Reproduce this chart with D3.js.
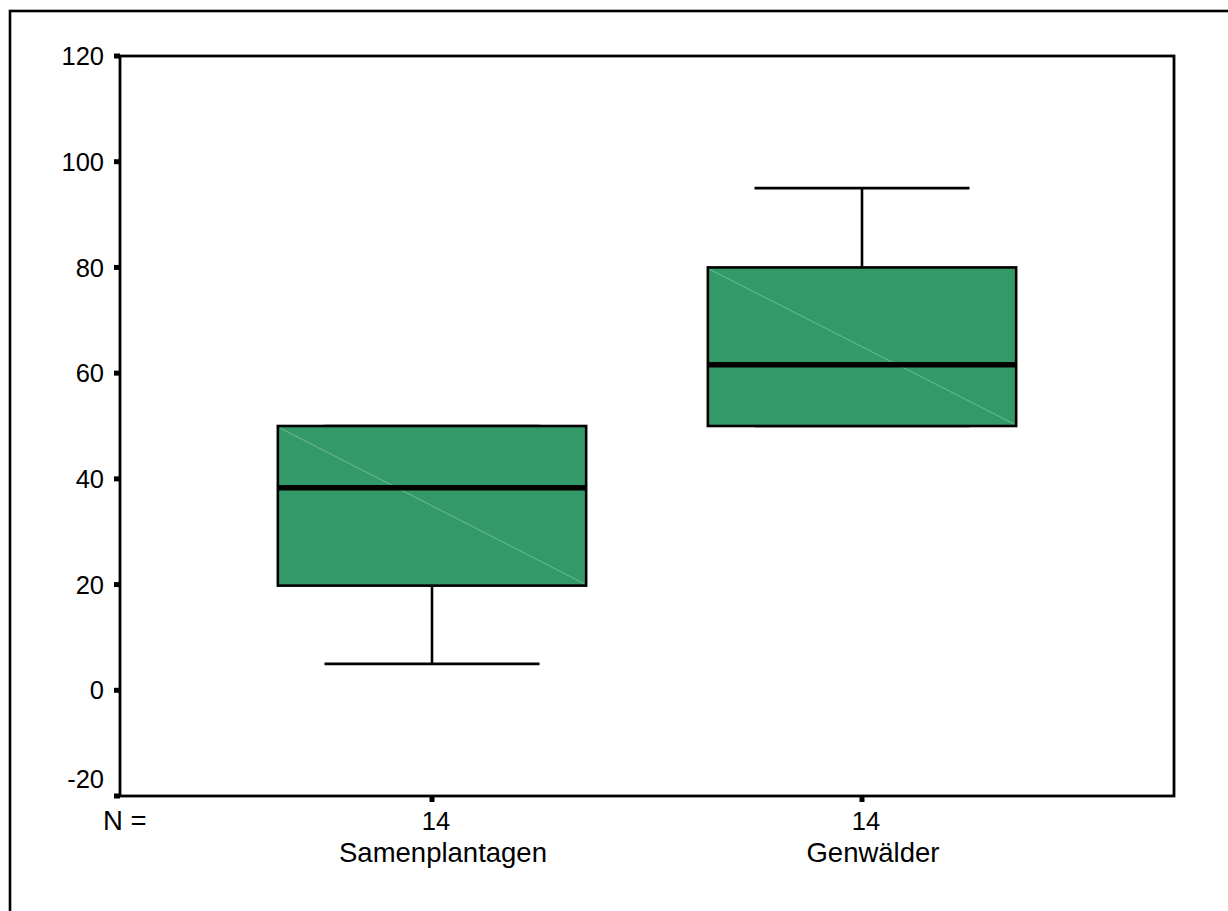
<!DOCTYPE html>
<html>
<head>
<meta charset="utf-8">
<script src="https://cdn.jsdelivr.net/npm/d3@7"></script>
<style>
  html, body { margin: 0; padding: 0; background: #fff; }
  svg { display: block; }
  text { font-family: "Liberation Sans", Arial, sans-serif; fill: #000; }
</style>
</head>
<body>
<svg id="chart" width="1228" height="911"></svg>
<script>
const categories = ["Samenplantagen", "Genwälder"];
const nValues = [14, 14];
const whiskerLow = [5, 50];
const q1Values = [19.8, 50];
const medianValues = [38.3, 61.6];
const q3Values = [50, 80];
const whiskerHigh = [50, 95];
const yTicks = [-20, 0, 20, 40, 60, 80, 100, 120];

(function () {
const svg = d3.select("#chart");
const pLeft = 120, pRight = 1174, pTop = 56, pBottom = 796;

const x = d3.scalePoint().domain(categories).range([pLeft, pRight]).padding(0.7256);
const y = d3.scaleLinear().domain([-20, 120]).range([pBottom, pTop]);
const step = x.step();
const boxW = step * 0.717;
const capW = step * 0.5;

svg.append("rect").attr("x", 10).attr("y", 11).attr("width", 1400).attr("height", 1100)
  .attr("fill", "none").attr("stroke", "#000").attr("stroke-width", 2.6);

const data = categories.map((c, i) => ({
  c, n: nValues[i], lo: whiskerLow[i], q1: q1Values[i], med: medianValues[i], q3: q3Values[i], hi: whiskerHigh[i]
}));

const g = svg.append("g");
data.forEach(d => {
  const cx = x(d.c);
  g.append("line").attr("x1", cx).attr("x2", cx).attr("y1", y(d.hi)).attr("y2", y(d.q3))
    .attr("stroke", "#000").attr("stroke-width", 2.6);
  g.append("line").attr("x1", cx).attr("x2", cx).attr("y1", y(d.q1)).attr("y2", y(d.lo))
    .attr("stroke", "#000").attr("stroke-width", 2.6);
  g.append("line").attr("x1", cx - capW / 2).attr("x2", cx + capW / 2).attr("y1", y(d.hi)).attr("y2", y(d.hi))
    .attr("stroke", "#000").attr("stroke-width", 2.6);
  g.append("line").attr("x1", cx - capW / 2).attr("x2", cx + capW / 2).attr("y1", y(d.lo)).attr("y2", y(d.lo))
    .attr("stroke", "#000").attr("stroke-width", 2.6);
  g.append("rect").attr("x", cx - boxW / 2).attr("y", y(d.q3)).attr("width", boxW).attr("height", y(d.q1) - y(d.q3))
    .attr("fill", "#349968").attr("stroke", "#000").attr("stroke-width", 2.6);
  g.append("line").attr("x1", cx - boxW / 2 + 2).attr("y1", y(d.q3) + 2).attr("x2", cx + boxW / 2 - 2).attr("y2", y(d.q1) - 2)
    .attr("stroke", "#7fc4a0").attr("stroke-width", 0.8);
  g.append("line").attr("x1", cx - boxW / 2).attr("x2", cx + boxW / 2).attr("y1", y(d.med)).attr("y2", y(d.med))
    .attr("stroke", "#000").attr("stroke-width", 5.5);
});

svg.append("rect").attr("x", pLeft).attr("y", pTop).attr("width", pRight - pLeft).attr("height", pBottom - pTop)
  .attr("fill", "none").attr("stroke", "#000").attr("stroke-width", 2.8);

yTicks.forEach(t => {
  svg.append("line").attr("x1", pLeft - 6).attr("x2", pLeft).attr("y1", y(t)).attr("y2", y(t))
    .attr("stroke", "#000").attr("stroke-width", 5);
  svg.append("text").attr("x", 104).attr("y", y(t) + (t === -20 ? -17 : 0))
    .attr("dy", "0.36em").attr("text-anchor", "end").attr("font-size", 25.5).text(t);
});

data.forEach(d => {
  const cx = x(d.c);
  svg.append("line").attr("x1", cx).attr("x2", cx).attr("y1", pBottom).attr("y2", pBottom + 6)
    .attr("stroke", "#000").attr("stroke-width", 5);
  svg.append("text").attr("x", cx + 4).attr("y", 830).attr("text-anchor", "middle").attr("font-size", 25.5).text(d.n);
  svg.append("text").attr("x", cx + 11).attr("y", 862).attr("text-anchor", "middle").attr("font-size", 27.5).text(d.c);
});
svg.append("text").attr("x", 103).attr("y", 830).attr("font-size", 27.5).text("N =");
})();
</script>
</body>
</html>
